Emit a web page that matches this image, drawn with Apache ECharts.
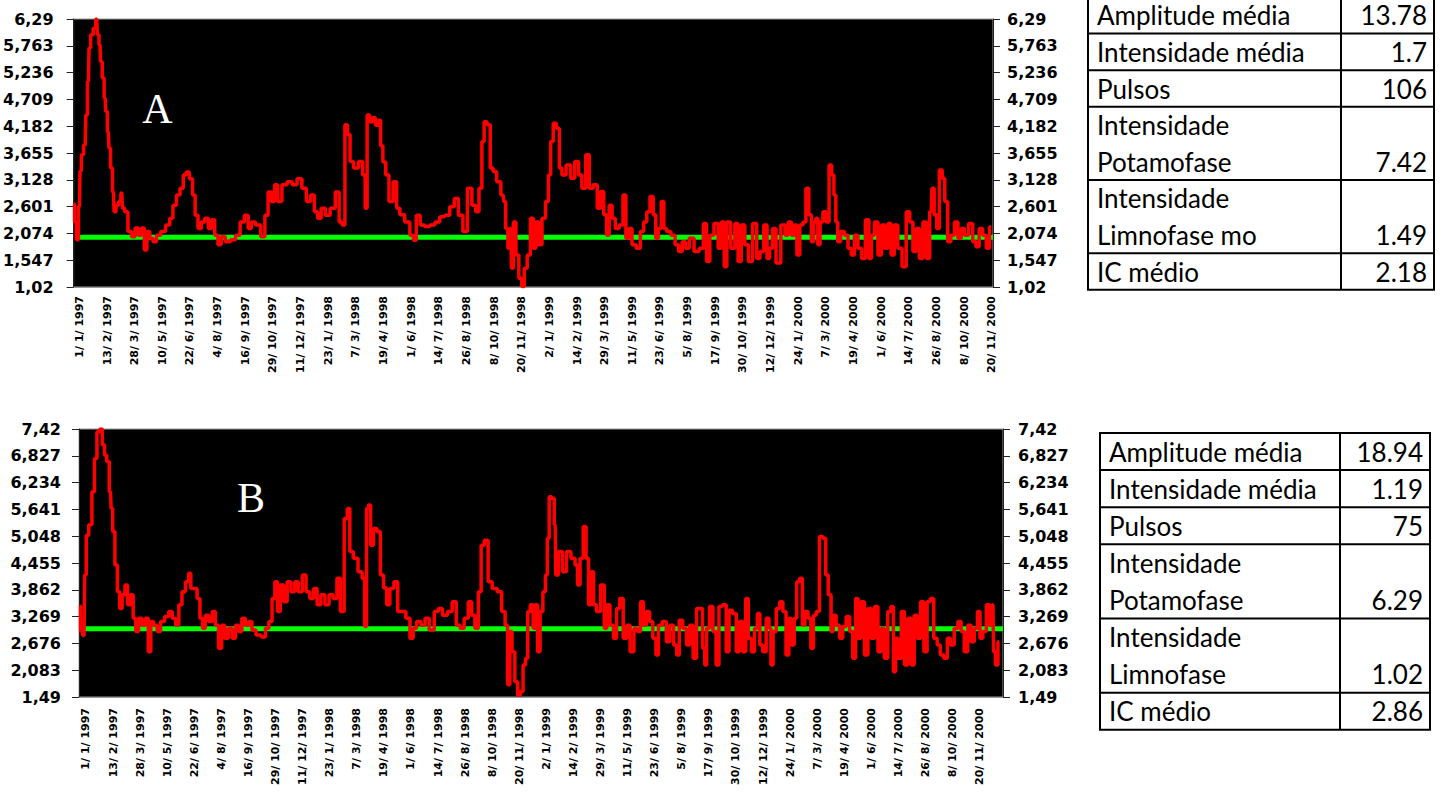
<!DOCTYPE html>
<html><head><meta charset="utf-8">
<script src="https://cdn.jsdelivr.net/npm/echarts@6/dist/echarts.min.js"></script>
<style>html,body{margin:0;padding:0;background:#fff}#c{width:1442px;height:798px}</style>
</head><body><div id="c"></div>
<script>
// ---- x-axis tick labels (every 43 days) ----
const rotulosDatas = ["1/ 1/ 1997","13/ 2/ 1997","28/ 3/ 1997","10/ 5/ 1997","22/ 6/ 1997","4/ 8/ 1997","16/ 9/ 1997","29/ 10/ 1997","11/ 12/ 1997","23/ 1/ 1998","7/ 3/ 1998","19/ 4/ 1998","1/ 6/ 1998","14/ 7/ 1998","26/ 8/ 1998","8/ 10/ 1998","20/ 11/ 1998","2/ 1/ 1999","14/ 2/ 1999","29/ 3/ 1999","11/ 5/ 1999","23/ 6/ 1999","5/ 8/ 1999","17/ 9/ 1999","30/ 10/ 1999","12/ 12/ 1999","24/ 1/ 2000","7/ 3/ 2000","19/ 4/ 2000","1/ 6/ 2000","14/ 7/ 2000","26/ 8/ 2000","8/ 10/ 2000","20/ 11/ 2000"];

// ---- y-axis ticks ----
const ticksA = [1.02,1.547,2.074,2.601,3.128,3.655,4.182,4.709,5.236,5.763,6.29];
const rotulosA = ["1,02","1,547","2,074","2,601","3,128","3,655","4,182","4,709","5,236","5,763","6,29"];
const ticksB = [1.49,2.083,2.676,3.269,3.862,4.455,5.048,5.641,6.234,6.827,7.42];
const rotulosB = ["1,49","2,083","2,676","3,269","3,862","4,455","5,048","5,641","6,234","6,827","7,42"];

// ---- reference (green) levels ----
const limiarA = 2.0;
const limiarB = 3.0;

// ---- series [day, value] ----
const serieA = [[0,2.65],[3,2.30],[6,1.95],[9,2.60],[11,3.30],[13,3.62],[18,3.81],[20,4.40],[23,5.06],[25,5.72],[28,5.98],[33,6.11],[36,6.29],[38,5.98],[41,5.78],[43,5.45],[46,5.13],[49,4.74],[51,4.47],[54,4.07],[56,3.75],[59,3.36],[62,2.89],[64,2.50],[68,2.63],[72,2.70],[75,2.87],[77,2.57],[82,2.50],[87,2.11],[93,2.01],[98,2.18],[103,2.04],[108,2.18],[112,1.75],[116,2.11],[121,1.98],[126,1.91],[132,2.04],[139,2.11],[147,2.24],[152,2.37],[157,2.63],[163,2.83],[168,2.96],[173,3.22],[177,3.28],[183,3.15],[187,2.83],[191,2.43],[196,2.17],[201,2.30],[207,2.37],[212,2.17],[217,2.34],[222,2.04],[227,1.85],[232,2.01],[240,1.91],[248,1.95],[256,2.04],[262,2.30],[269,2.43],[274,2.17],[279,2.30],[287,2.24],[295,2.01],[300,2.43],[305,2.89],[310,2.70],[315,3.03],[320,2.70],[328,3.03],[336,3.09],[344,3.03],[351,3.15],[359,2.96],[365,2.70],[372,2.83],[377,2.50],[382,2.37],[388,2.57],[395,2.43],[403,2.57],[411,2.89],[415,2.30],[420,2.24],[424,4.21],[428,4.02],[432,3.49],[439,3.36],[447,3.49],[452,3.22],[455,2.57],[458,4.40],[463,4.27],[467,4.35],[472,4.20],[476,4.30],[479,3.80],[483,3.48],[488,3.22],[493,2.70],[501,3.09],[504,2.57],[511,2.44],[519,2.30],[527,2.04],[530,1.94],[536,2.43],[542,2.24],[550,2.21],[558,2.24],[566,2.30],[573,2.40],[581,2.43],[589,2.60],[595,2.76],[602,2.43],[609,2.11],[616,2.96],[623,2.63],[628,2.50],[633,2.96],[637,3.88],[640,4.27],[646,4.21],[650,3.36],[655,3.29],[661,3.09],[668,2.83],[670,2.70],[674,2.17],[677,1.78],[680,2.17],[682,1.39],[686,2.30],[690,1.65],[695,1.19],[699,1.03],[703,1.39],[708,1.65],[713,2.37],[717,1.78],[721,2.30],[726,1.85],[731,2.37],[737,2.70],[740,3.22],[744,3.88],[748,4.24],[754,4.14],[757,3.36],[762,3.22],[770,3.42],[776,3.16],[783,3.49],[788,3.22],[793,2.96],[800,3.62],[804,2.96],[812,3.03],[817,2.57],[822,2.90],[827,2.44],[831,2.04],[835,2.63],[840,2.37],[845,2.17],[852,2.24],[857,2.83],[861,1.98],[866,2.17],[871,1.85],[879,1.78],[884,2.11],[889,2.30],[894,2.50],[899,2.80],[904,2.44],[907,1.98],[912,2.17],[916,2.70],[920,2.17],[925,2.11],[933,2.04],[938,1.85],[944,1.72],[949,1.91],[954,1.78],[961,1.98],[969,1.72],[977,1.78],[982,2.27],[987,1.52],[992,2.04],[1000,2.27],[1005,1.78],[1010,2.30],[1014,1.42],[1018,2.30],[1026,1.78],[1031,2.27],[1036,1.52],[1041,2.24],[1047,1.85],[1052,1.52],[1060,2.27],[1065,1.58],[1070,1.72],[1077,2.24],[1080,1.58],[1085,1.78],[1089,2.17],[1096,1.49],[1104,2.24],[1109,2.04],[1114,2.30],[1119,2.04],[1123,2.24],[1127,1.65],[1132,2.24],[1137,2.30],[1141,2.96],[1146,2.44],[1149,1.91],[1153,2.30],[1156,2.37],[1159,1.85],[1163,2.30],[1168,2.50],[1173,2.30],[1177,3.42],[1181,3.22],[1184,2.83],[1187,2.30],[1190,1.91],[1196,2.11],[1202,2.04],[1207,1.78],[1212,1.65],[1217,2.04],[1223,1.78],[1228,1.58],[1235,2.34],[1239,1.58],[1243,2.04],[1248,2.30],[1254,1.65],[1259,2.24],[1264,1.78],[1269,2.27],[1274,1.65],[1279,2.24],[1285,1.78],[1292,1.42],[1298,2.50],[1303,2.30],[1308,1.72],[1313,2.17],[1318,1.58],[1324,2.30],[1329,1.58],[1334,2.50],[1336,2.96],[1341,2.44],[1344,2.17],[1349,3.32],[1353,3.16],[1357,2.70],[1362,1.91],[1367,2.04],[1373,2.30],[1378,1.98],[1383,2.17],[1388,2.04],[1396,2.27],[1401,1.91],[1406,1.81],[1411,2.17],[1417,2.04],[1422,1.78],[1427,2.20]];

const serieB = [[1,3.50],[4,2.95],[8,2.85],[10,4.19],[13,5.07],[18,5.30],[23,6.03],[26,6.77],[31,7.36],[35,7.42],[39,7.07],[42,6.84],[46,6.70],[50,6.03],[52,5.66],[55,5.15],[59,4.41],[63,3.82],[66,3.45],[71,3.75],[75,3.97],[79,3.53],[84,3.75],[88,3.23],[92,2.94],[97,3.23],[103,3.08],[108,3.23],[112,2.49],[116,3.16],[121,3.08],[127,2.94],[132,3.16],[140,3.27],[145,3.38],[151,3.23],[156,3.08],[161,3.53],[166,3.82],[172,4.04],[176,4.23],[179,3.89],[185,3.89],[190,3.67],[194,3.23],[198,3.01],[203,3.30],[209,3.16],[214,3.38],[219,3.08],[224,2.57],[229,3.08],[234,2.79],[240,3.01],[246,2.79],[251,3.08],[256,2.94],[261,3.23],[267,3.08],[272,3.16],[277,2.97],[285,2.86],[293,2.82],[299,3.01],[304,3.16],[309,3.67],[313,4.04],[317,3.38],[322,3.97],[328,3.60],[333,4.04],[340,3.82],[345,4.04],[351,3.82],[358,4.19],[363,3.82],[370,3.67],[375,3.89],[381,3.53],[387,3.75],[394,3.53],[400,3.75],[407,3.67],[412,4.12],[418,3.38],[424,5.44],[428,5.66],[432,4.71],[439,4.56],[447,4.26],[452,4.12],[455,3.05],[458,5.66],[461,5.74],[465,4.85],[470,5.22],[476,5.15],[481,4.19],[486,3.90],[491,3.53],[496,3.89],[504,4.04],[508,3.38],[515,3.38],[523,3.23],[528,2.79],[533,3.01],[539,3.16],[547,3.08],[552,3.23],[560,2.97],[568,3.38],[573,3.45],[581,3.30],[589,3.38],[596,3.60],[602,3.08],[608,3.01],[615,3.23],[621,3.60],[626,3.30],[631,3.01],[637,3.82],[640,4.85],[647,4.96],[652,4.04],[660,3.89],[668,3.82],[674,3.38],[679,3.08],[682,1.76],[686,2.94],[689,2.49],[695,1.83],[698,1.53],[703,1.61],[707,2.20],[711,2.35],[714,3.38],[719,3.53],[723,3.01],[726,3.53],[730,2.49],[734,3.38],[739,3.82],[742,4.19],[745,5.00],[748,5.92],[753,5.89],[756,5.30],[758,4.19],[764,4.71],[771,4.26],[777,4.71],[785,4.56],[790,4.41],[793,3.97],[798,4.56],[803,5.26],[807,4.56],[811,3.53],[815,4.26],[819,3.53],[824,3.38],[832,3.97],[836,3.01],[840,3.53],[846,3.08],[851,2.79],[856,3.45],[861,3.67],[867,2.79],[872,3.08],[878,2.49],[884,3.01],[889,2.94],[894,3.60],[898,3.08],[904,3.38],[908,3.16],[914,2.79],[918,2.42],[922,3.08],[930,3.16],[935,2.71],[941,3.08],[947,2.64],[951,2.42],[955,3.19],[962,3.01],[967,2.64],[972,3.08],[978,2.35],[983,3.45],[988,3.45],[992,2.57],[995,2.20],[998,3.01],[1004,3.49],[1009,2.94],[1014,2.20],[1018,3.49],[1025,3.53],[1030,2.49],[1034,3.41],[1041,3.34],[1046,2.49],[1051,3.16],[1057,2.49],[1060,3.67],[1065,2.79],[1070,2.49],[1075,3.01],[1079,3.34],[1083,2.64],[1088,2.49],[1094,3.23],[1097,3.01],[1100,2.20],[1104,2.94],[1110,3.45],[1115,3.60],[1120,3.38],[1125,2.42],[1129,3.23],[1133,2.64],[1138,3.23],[1141,4.04],[1147,4.12],[1150,3.08],[1155,3.38],[1160,3.23],[1164,2.57],[1168,3.30],[1173,3.38],[1178,5.04],[1184,5.00],[1187,4.19],[1192,3.75],[1196,2.94],[1199,3.30],[1205,3.08],[1210,2.79],[1215,3.05],[1221,3.27],[1226,2.94],[1231,2.35],[1235,3.67],[1239,2.79],[1244,3.60],[1250,2.42],[1255,3.45],[1260,2.79],[1266,3.49],[1271,2.49],[1276,3.01],[1281,2.35],[1287,3.38],[1291,3.49],[1295,2.05],[1298,2.79],[1303,2.35],[1308,3.38],[1313,2.20],[1319,3.23],[1324,2.20],[1328,3.30],[1333,2.79],[1339,3.60],[1344,2.49],[1349,3.60],[1354,3.67],[1360,2.79],[1365,2.64],[1370,2.42],[1376,2.35],[1381,2.79],[1386,2.64],[1393,3.01],[1398,3.16],[1403,2.94],[1408,2.49],[1414,3.08],[1419,2.71],[1424,3.01],[1429,3.38],[1432,2.79],[1438,2.94],[1443,3.53],[1448,3.08],[1451,3.53],[1453,2.49],[1457,2.20],[1461,2.71]];

// ---- tables ----
const tabelaA = [["Amplitude média","13.78"],["Intensidade média","1.7"],["Pulsos","106"],["Intensidade\nPotamofase","7.42"],["Intensidade\nLimnofase mo","1.49"],["IC médio","2.18"]];
const tabelaB = [["Amplitude média","18.94"],["Intensidade média","1.19"],["Pulsos","75"],["Intensidade\nPotamofase","6.29"],["Intensidade\nLimnofase","1.02"],["IC médio","2.86"]];

// ---- layout (positions / styles) ----
const PASSO = 43;
const offA = 9, offB = 11;
const posLabelsA = rotulosDatas.map((_, i) => offA + i * PASSO);
const posLabelsB = rotulosDatas.map((_, i) => offB + i * PASSO);

function fmtX(off){ return v => { const i = Math.round((v - off) / PASSO); return rotulosDatas[i] || ''; }; }
function fmtY(ticks, labs){ return v => { const i = ticks.findIndex(t => Math.abs(t - v) < 1e-6); return i >= 0 ? labs[i] : ''; }; }

const FONT_AX = 'DejaVu Sans, Liberation Sans, sans-serif';

function xAxisCfg(grid, max, pos, off, margin){
  return {gridIndex: grid, type:'value', min:0, max:max,
    axisLine:{show:true, onZero:false, lineStyle:{color:'#999', width:1}},
    axisTick:{show:false}, splitLine:{show:false},
    axisLabel:{customValues:pos, rotate:90, formatter:fmtX(off), fontSize:11, fontWeight:'bold',
      fontFamily:FONT_AX, color:'#000', margin:margin}};
}
function yAxisCfg(grid, ticks, labs, side, margin){
  return {gridIndex: grid, type:'value', position: side, min: ticks[0], max: ticks[ticks.length-1],
    axisLine:{show:true, lineStyle:{color:'#222', width:1}},
    axisTick:{show:true, customValues:ticks, length:7, lineStyle:{color:'#222'}},
    axisLabel:{customValues:ticks, formatter:fmtY(ticks, labs), fontSize:16, fontWeight:'bold',
      fontFamily:FONT_AX, color:'#000', margin:margin},
    splitLine:{show:false}};
}

function tabela(rows, x0, xd, x1, y0, u){
  const els = [];
  const nLines = rows.reduce((s, r) => s + r[0].split('\n').length, 0);
  const total = nLines * u;
  els.push({type:'rect', shape:{x:x0, y:y0, width:x1-x0, height:total}, style:{fill:'#fff', stroke:'#000', lineWidth:2}});
  els.push({type:'line', shape:{x1:xd, y1:y0, x2:xd, y2:y0+total}, style:{stroke:'#000', lineWidth:2}});
  let y = y0;
  const st = {font:'26px Lato, sans-serif', fill:'#000', lineHeight:26, verticalAlign:'middle', textVerticalAlign:'middle'};
  rows.forEach((r, i) => {
    const lines = r[0].split('\n');
    lines.forEach((t, k) => {
      els.push({type:'text', x:x0+9, y:y+u*(k+0.5), style:Object.assign({text:t, align:'left', textAlign:'left'}, st)});
    });
    els.push({type:'text', x:x1-7, y:y+u*(lines.length-0.5), style:Object.assign({text:r[1], align:'right', textAlign:'right'}, st)});
    y += lines.length * u;
    if (i < rows.length - 1) els.push({type:'line', shape:{x1:x0, y1:y, x2:x1, y2:y}, style:{stroke:'#000', lineWidth:2}});
  });
  return els;
}

const chart = echarts.init(document.getElementById('c'), null, {renderer:'svg'});
chart.setOption({
  animation:false,
  backgroundColor:'#fff',
  grid:[
    {left:72, top:19, width:921, height:268, show:true, backgroundColor:'#000', borderColor:'#999', borderWidth:1},
    {left:79, top:429, width:924, height:268, show:true, backgroundColor:'#000', borderColor:'#999', borderWidth:1}
  ],
  xAxis:[ xAxisCfg(0, 1430, posLabelsA, offA, 9), xAxisCfg(1, 1467, posLabelsB, offB, 11) ],
  yAxis:[
    yAxisCfg(0, ticksA, rotulosA, 'left', 20),
    yAxisCfg(0, ticksA, rotulosA, 'right', 14),
    yAxisCfg(1, ticksB, rotulosB, 'left', 18),
    yAxisCfg(1, ticksB, rotulosB, 'right', 15)
  ],
  series:[
    {type:'line', xAxisIndex:0, yAxisIndex:0, data:[[5, limiarA],[1430, limiarA]], showSymbol:false, silent:true,
      lineStyle:{color:'#00ff00', width:5}, z:2},
    {type:'line', xAxisIndex:0, yAxisIndex:0, data:serieA, step:'middle', showSymbol:false, silent:true, clip:true,
      lineStyle:{color:'#ff0000', width:3.5}, z:3},
    {type:'line', xAxisIndex:1, yAxisIndex:2, data:[[8, limiarB],[1467, limiarB]], showSymbol:false, silent:true,
      lineStyle:{color:'#00ff00', width:5}, z:2},
    {type:'line', xAxisIndex:1, yAxisIndex:2, data:serieB, step:'middle', showSymbol:false, silent:true, clip:true,
      lineStyle:{color:'#ff0000', width:3.5}, z:3}
  ],
  graphic:[
    {type:'text', x:157.5, y:109, z:10, style:{text:'A', font:'42px Liberation Serif, serif', fill:'#fff',
      align:'center', verticalAlign:'middle', textAlign:'center', textVerticalAlign:'middle'}},
    {type:'text', x:251, y:497.5, z:10, style:{text:'B', font:'42px Liberation Serif, serif', fill:'#fff',
      align:'center', verticalAlign:'middle', textAlign:'center', textVerticalAlign:'middle'}},
    ...tabela(tabelaA, 1088, 1341, 1434, -3, 36.6),
    ...tabela(tabelaB, 1100, 1340, 1430, 433, 37.1)
  ]
});
</script></body></html>
